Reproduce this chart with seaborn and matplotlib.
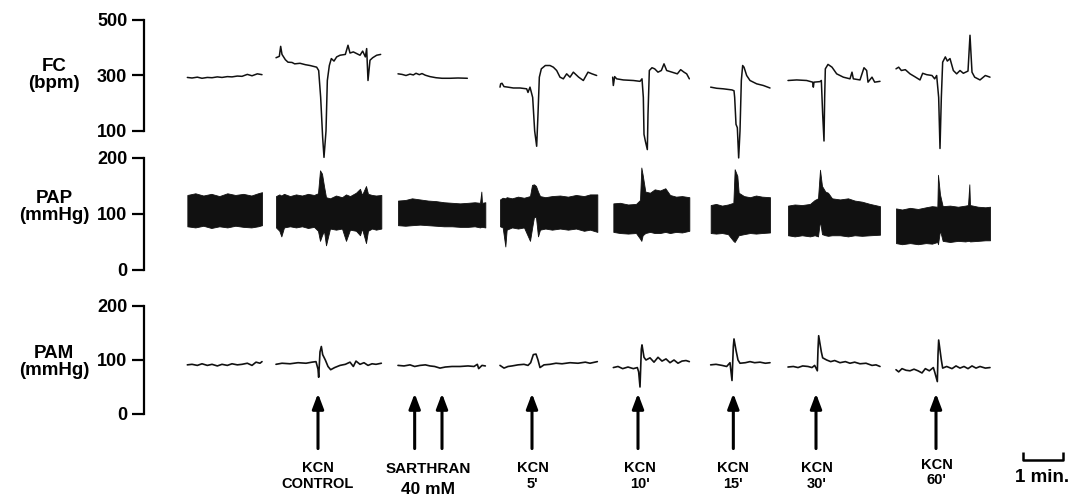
import matplotlib
matplotlib.use("Agg")
import matplotlib.pyplot as plt
import pandas as pd
import seaborn as sns

# time (s) from the start of the record, one sub-list per recording window
fc_time = [
    [65, 72, 80, 87, 95, 102, 110, 117, 125, 132, 140, 147, 155, 162, 170, 177],
    [198, 203, 205, 207, 212, 216, 222, 226, 234, 242, 249, 254, 259, 262, 265, 268, 270, 273, 275,
     278, 281, 285, 289, 294, 302, 306, 309, 314, 319, 324, 328, 332, 334, 336, 339, 343, 349, 355],
    [381, 387, 393, 399, 404, 408, 413, 417, 422, 429, 438, 447, 459, 471, 485],
    [534, 535, 537, 540, 546, 554, 564, 574, 576, 579, 583, 586, 589, 591, 593, 596, 602, 609, 614,
     619, 624, 629, 634, 639, 644, 652, 659, 666, 672, 679],
    [703, 704, 706, 709, 719, 734, 744, 747, 749, 750, 752, 755, 756, 758, 762, 766, 771, 776, 780,
     784, 792, 800, 805, 810, 814, 818],
    [850, 859, 869, 882, 885, 886, 888, 890, 892, 894, 896, 898, 900, 904, 909, 919, 929, 939],
    [966, 979, 994, 1003, 1004, 1005, 1014, 1016, 1018, 1020, 1021, 1022, 1026, 1032, 1039, 1049,
     1059, 1062, 1064, 1074, 1080, 1084, 1086, 1092, 1096, 1104],
    [1128, 1132, 1136, 1142, 1149, 1156, 1164, 1168, 1174, 1182, 1186, 1189, 1192, 1194, 1196, 1198,
     1202, 1205, 1209, 1214, 1219, 1224, 1229, 1236, 1239, 1242, 1246, 1254, 1262, 1269],
]
fc_bpm = [
    [293, 291, 294, 290, 293, 292, 295, 293, 296, 295, 298, 297, 304, 299, 306, 303],
    [364, 369, 405, 376, 357, 348, 347, 342, 344, 339, 336, 333, 330, 318, 221, 76, 5, 100, 282,
     336, 361, 352, 367, 373, 376, 409, 381, 385, 379, 373, 388, 367, 397, 282, 355, 364, 373, 376],
    [306, 304, 300, 305, 302, 308, 303, 307, 301, 296, 292, 290, 290, 291, 290],
    [258, 270, 272, 260, 258, 255, 255, 252, 239, 258, 221, 100, 45, 161, 294, 324, 336, 336, 330,
     318, 294, 288, 306, 294, 312, 294, 282, 312, 306, 300],
    [294, 264, 296, 288, 284, 282, 279, 288, 221, 88, 64, 33, 161, 318, 328, 324, 312, 318, 342,
     318, 312, 306, 321, 312, 306, 288],
    [258, 254, 252, 248, 245, 221, 124, 112, 3, 100, 282, 336, 330, 300, 282, 270, 264, 255],
    [282, 284, 282, 276, 258, 276, 278, 282, 161, 64, 221, 324, 340, 330, 306, 294, 288, 312, 288,
     284, 328, 318, 276, 294, 276, 279],
    [324, 330, 318, 321, 306, 296, 284, 308, 303, 300, 288, 300, 221, 37, 221, 348, 367, 352, 361,
     318, 306, 318, 308, 316, 445, 312, 294, 284, 300, 294],
]

# PAP: systolic (upper) and diastolic (lower) envelope of the pulsatile trace
pap_time = [
    [65, 77, 89, 101, 113, 125, 137, 149, 161, 171, 177],
    [198, 203, 206, 210, 219, 228, 237, 246, 255, 261, 264, 267, 270, 273, 279, 288, 297, 303, 309,
     318, 324, 327, 333, 336, 342, 348, 356],
    [381, 392, 402, 414, 426, 438, 450, 462, 474, 486, 496, 504, 506, 507, 512],
    [534, 538, 542, 544, 552, 561, 570, 579, 582, 585, 588, 591, 594, 602, 612, 624, 636, 648, 660,
     669, 680],
    [704, 714, 726, 738, 744, 746, 748, 752, 759, 766, 774, 782, 789, 798, 807, 818],
    [850, 858, 867, 876, 884, 886, 890, 892, 900, 909, 918, 927, 939],
    [966, 976, 987, 999, 1006, 1011, 1014, 1017, 1022, 1026, 1032, 1044, 1056, 1066, 1077, 1089, 1104],
    [1128, 1137, 1149, 1161, 1173, 1182, 1190, 1191, 1194, 1198, 1209, 1221, 1232, 1236, 1238, 1239,
     1251, 1262, 1269],
]
pap_high = [
    [134, 137, 133, 136, 132, 137, 134, 136, 133, 137, 139],
    [132, 135, 133, 136, 132, 135, 133, 136, 134, 137, 178, 172, 150, 130, 128, 133, 130, 135, 132,
     138, 145, 134, 150, 136, 134, 133, 134],
    [124, 125, 128, 126, 124, 123, 121, 120, 119, 120, 121, 120, 140, 120, 121],
    [126, 129, 128, 130, 128, 131, 129, 132, 152, 153, 150, 140, 132, 130, 132, 133, 131, 134, 132,
     135, 135],
    [119, 120, 117, 118, 125, 183, 170, 140, 138, 144, 142, 146, 134, 131, 132, 130],
    [116, 118, 115, 117, 120, 180, 168, 138, 132, 130, 133, 131, 130],
    [115, 117, 116, 118, 125, 128, 179, 150, 140, 138, 128, 126, 128, 124, 122, 118, 114],
    [110, 108, 111, 109, 112, 114, 113, 170, 135, 114, 115, 113, 115, 116, 153, 116, 113, 112, 113],
]
pap_low = [
    [78, 76, 79, 75, 78, 76, 79, 77, 76, 78, 80],
    [76, 70, 60, 76, 78, 76, 78, 75, 77, 70, 52, 62, 70, 44, 74, 72, 74, 52, 72, 70, 62, 74, 48, 70,
     74, 72, 74],
    [80, 79, 80, 81, 80, 79, 78, 78, 77, 77, 78, 76, 77, 77, 76],
    [78, 76, 42, 72, 76, 74, 76, 52, 74, 95, 94, 60, 72, 74, 72, 74, 72, 74, 70, 72, 68],
    [68, 66, 65, 66, 56, 52, 62, 66, 68, 66, 66, 68, 66, 68, 67, 70],
    [66, 65, 66, 64, 52, 50, 58, 62, 64, 66, 65, 66, 67],
    [62, 60, 62, 60, 62, 60, 88, 64, 62, 61, 62, 62, 60, 62, 61, 62, 63],
    [48, 46, 48, 46, 48, 47, 50, 46, 71, 52, 50, 52, 51, 52, 52, 51, 52, 53, 53],
]

pam_time = [
    [65, 72, 80, 87, 95, 102, 110, 117, 125, 132, 140, 147, 155, 162, 168, 174, 177],
    [198, 207, 219, 231, 243, 252, 258, 261, 262, 264, 266, 268, 272, 276, 280, 286, 294, 302, 309,
     314, 318, 324, 330, 336, 342, 348, 356],
    [381, 390, 399, 406, 414, 422, 429, 436, 444, 452, 462, 474, 486, 495, 500, 502, 507, 512],
    [534, 540, 546, 552, 561, 570, 576, 580, 584, 588, 591, 594, 600, 609, 618, 627, 639, 651, 662,
     669, 680],
    [704, 711, 718, 726, 734, 740, 742, 744, 746, 747, 750, 753, 759, 765, 771, 777, 783, 789, 795,
     801, 807, 813, 818],
    [850, 858, 867, 874, 879, 882, 884, 885, 888, 891, 894, 902, 909, 916, 924, 932, 939],
    [966, 974, 981, 988, 996, 1002, 1006, 1010, 1011, 1012, 1016, 1018, 1024, 1030, 1036, 1044,
     1052, 1059, 1066, 1074, 1083, 1092, 1098, 1104],
    [1128, 1132, 1137, 1143, 1149, 1155, 1161, 1167, 1172, 1178, 1184, 1186, 1190, 1191, 1192, 1196,
     1198, 1204, 1212, 1218, 1224, 1230, 1236, 1242, 1248, 1254, 1262, 1269],
]
pam_mmhg = [
    [91, 92, 90, 93, 90, 92, 89, 92, 90, 93, 91, 92, 94, 90, 96, 94, 97],
    [92, 94, 93, 95, 94, 96, 97, 83, 68, 115, 125, 110, 100, 88, 82, 86, 90, 92, 96, 88, 98, 92, 95,
     90, 93, 92, 94],
    [90, 89, 91, 88, 90, 91, 89, 88, 85, 87, 88, 88, 89, 88, 92, 84, 90, 89],
    [90, 85, 88, 89, 91, 92, 90, 95, 110, 111, 100, 86, 91, 92, 94, 93, 95, 94, 96, 94, 97],
    [86, 88, 84, 87, 84, 86, 78, 50, 120, 128, 105, 100, 104, 96, 105, 98, 102, 95, 100, 94, 98, 99, 97],
    [91, 92, 90, 88, 95, 62, 125, 139, 118, 100, 94, 95, 97, 95, 96, 94, 95],
    [87, 88, 86, 89, 88, 86, 90, 80, 120, 145, 115, 104, 100, 97, 99, 95, 97, 94, 96, 93, 94, 90, 91, 88],
    [82, 78, 84, 81, 80, 83, 80, 76, 84, 80, 86, 78, 60, 110, 137, 100, 85, 88, 84, 89, 85, 88, 84, 89,
     85, 88, 85, 86],
]

# injections (arrows) and their captions
arrow_time = [261, 406, 447, 582, 741, 884, 1008, 1188]
caption_time = [261, 426.5, 583, 744, 884, 1009, 1189]
caption_top = ["KCN", "SARTHRAN", "KCN", "KCN", "KCN", "KCN", "KCN"]
caption_bottom = ["CONTROL", "40 mM", "5'", "10'", "15'", "30'", "60'"]
scale_bar = [1319, 1379]  # 1 min

ink = "#111111"

sns.set_theme(style="white")
plt.rcParams["font.family"] = ["Liberation Sans", "DejaVu Sans"]
plt.rcParams["font.weight"] = "bold"
plt.rcParams["text.color"] = "black"

W, H = 1075, 495
fig = plt.figure(figsize=(W / 100, H / 100), dpi=100)


def px_axes(top, bottom):
    return fig.add_axes([144 / W, 1 - bottom / H, 1 - 144 / W, (bottom - top) / H])


def long_df(times, values):
    parts = [pd.DataFrame({"seg": i, "t": t, "v": v}) for i, (t, v) in enumerate(zip(times, values))]
    return pd.concat(parts, ignore_index=True)


ax_fc = px_axes(20, 131)
ax_pap = px_axes(158, 270)
ax_pam = px_axes(306, 414)

sns.lineplot(data=long_df(fc_time, fc_bpm), x="t", y="v", units="seg", estimator=None,
             sort=False, color=ink, lw=1.1, ax=ax_fc, clip_on=False)
sns.lineplot(data=long_df(pam_time, pam_mmhg), x="t", y="v", units="seg", estimator=None,
             sort=False, color=ink, lw=1.2, ax=ax_pam, clip_on=False)
for t, hi, lo in zip(pap_time, pap_high, pap_low):
    ax_pap.fill_between(t, lo, hi, color=ink, lw=0.6, edgecolor=ink, clip_on=False)

panels = [
    (ax_fc, (100, 500), [100, 300, 500], "FC\n(bpm)", 75),
    (ax_pap, (0, 200), [0, 100, 200], "PAP\n(mmHg)", 207),
    (ax_pam, (0, 200), [0, 100, 200], "PAM\n(mmHg)", 362),
]
for ax, lim, ticks, label, ypx in panels:
    ax.set_xlim(0, 1396.5)
    ax.set_ylim(*lim)
    ax.set_yticks(ticks)
    ax.set_xticks([])
    ax.set_xlabel("")
    ax.set_ylabel("")
    ax.patch.set_alpha(0)
    for side in ["top", "right", "bottom"]:
        ax.spines[side].set_visible(False)
    ax.spines["left"].set_linewidth(1.6)
    ax.spines["left"].set_color("black")
    ax.tick_params(axis="y", left=True, length=9, width=1.6, pad=3, labelsize=13,
                   color="black", labelcolor="black", direction="out")
    fig.text(54 / W, 1 - ypx / H, label, ha="center", va="center", fontsize=13.5,
             fontweight="bold", linespacing=1.05, color="black")

trans = ax_pam.get_xaxis_transform()
for t in arrow_time:
    ax_pam.annotate("", xy=(t, 0.19), xycoords=trans, xytext=(t, -0.32), textcoords=trans,
                    annotation_clip=False,
                    arrowprops=dict(arrowstyle="-|>,head_length=0.45,head_width=0.17",
                                    mutation_scale=20, lw=2.2, color="black",
                                    shrinkA=0, shrinkB=0))

for t, top, bottom in zip(caption_time, caption_top, caption_bottom):
    if top == "SARTHRAN":
        ax_pam.text(t, -0.51, top, transform=trans, ha="center", va="center", fontsize=11)
        ax_pam.text(t, -0.70, bottom, transform=trans, ha="center", va="center", fontsize=12.5)
    else:
        dy = 0.03 if bottom == "60'" else 0
        ax_pam.text(t, -0.50 + dy, top, transform=trans, ha="center", va="center", fontsize=10.5)
        ax_pam.text(t, -0.645 + dy, bottom, transform=trans, ha="center", va="center", fontsize=10.5)

ax_pam.plot([scale_bar[0], scale_bar[0], scale_bar[1], scale_bar[1]],
            [-0.35, -0.425, -0.425, -0.35], transform=trans, color="black", lw=1.8,
            clip_on=False, solid_capstyle="butt")
ax_pam.text(sum(scale_bar) / 2 - 2, -0.585, "1 min.", transform=trans, ha="center",
            va="center", fontsize=13.5)

fig.savefig("out.png", dpi=100)
